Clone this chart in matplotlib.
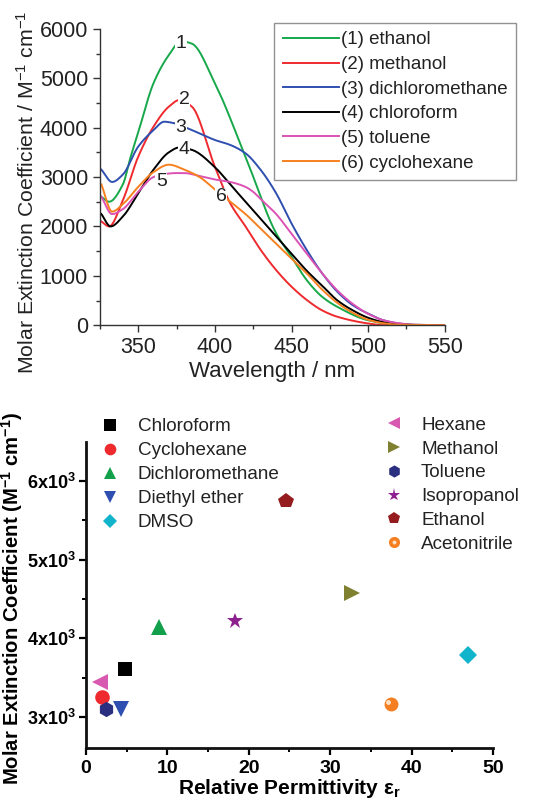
import numpy as np
import matplotlib
matplotlib.use("Agg")
import matplotlib.pyplot as plt
from matplotlib.lines import Line2D
from matplotlib.legend_handler import HandlerTuple
from matplotlib.ticker import MultipleLocator, FixedLocator, FixedFormatter

plt.rcParams['font.family'] = ['Liberation Sans', 'DejaVu Sans']
plt.rcParams['mathtext.fontset'] = 'custom'
plt.rcParams['mathtext.rm'] = 'Liberation Sans'
plt.rcParams['mathtext.bf'] = 'Liberation Sans:bold'
plt.rcParams['mathtext.default'] = 'regular'

# ---------------- Top panel data (spectra) ----------------
wl_ethanol = [326, 331, 340, 345, 350, 360, 370, 378, 385, 400, 420, 440, 450, 460, 470, 480, 500, 520, 550]
ab_ethanol = [2600, 2500, 2850, 3400, 3900, 4900, 5470, 5750, 5700, 4900, 3410, 1860, 1385, 910, 575, 370, 100, 5, 0]

wl_methanol = [326, 331, 340, 350, 360, 370, 377, 385, 400, 410, 420, 430, 440, 450, 460, 470, 480, 500, 510, 550]
ab_methanol = [2100, 2000, 2530, 3410, 4020, 4425, 4560, 4425, 3210, 2470, 2000, 1520, 1115, 780, 510, 300, 170, 35, 0, 0]

wl_dcm = [326, 333, 340, 350, 360, 367, 372, 385, 400, 410, 420, 430, 440, 450, 460, 470, 480, 490, 500, 510, 520, 530, 550]
ab_dcm = [3150, 2900, 3050, 3615, 3950, 4120, 4100, 3950, 3750, 3650, 3480, 3140, 2670, 2060, 1520, 1050, 675, 405, 235, 100, 35, 5, 0]

wl_chcl3 = [326, 332, 340, 350, 360, 370, 377, 385, 400, 410, 420, 430, 440, 450, 460, 470, 480, 490, 500, 510, 520, 550]
ab_chcl3 = [2250, 2000, 2200, 2670, 3150, 3500, 3600, 3550, 3200, 2850, 2500, 2150, 1800, 1450, 1100, 800, 500, 300, 150, 60, 15, 0]

wl_toluene = [326, 333, 340, 350, 360, 367, 375, 380, 390, 400, 410, 420, 425, 430, 440, 450, 460, 470, 480, 490, 500, 510, 520, 530, 550]
ab_toluene = [2600, 2250, 2350, 2700, 3000, 3060, 3080, 3080, 3020, 2950, 2900, 2800, 2700, 2550, 2250, 1850, 1450, 1050, 700, 430, 230, 100, 40, 10, 0]

wl_chex = [326, 333, 340, 350, 360, 370, 380, 390, 400, 410, 420, 430, 440, 450, 460, 470, 480, 490, 500, 510, 520, 550]
ab_chex = [2850, 2300, 2450, 2800, 3100, 3250, 3150, 3000, 2750, 2500, 2250, 1950, 1650, 1350, 1050, 720, 450, 250, 110, 40, 10, 0]

spec_labels = ["(1) ethanol", "(2) methanol", "(3) dichloromethane",
               "(4) chloroform", "(5) toluene", "(6) cyclohexane"]
spec_colors = ["#17a84a", "#ee2a2e", "#2f4fb0", "#000000", "#dc52b4", "#f7801f"]
num_labels = ["1", "2", "3", "4", "5", "6"]
num_pos_x = [378, 380, 378, 380, 365, 404]
num_pos_y = [5700, 4560, 4000, 3550, 2900, 2600]

# ---------------- Bottom panel data (scatter) ----------------
solvents = ["Chloroform", "Cyclohexane", "Dichloromethane", "Diethyl ether", "DMSO",
            "Hexane", "Methanol", "Toluene", "Isopropanol", "Ethanol", "Acetonitrile"]
permittivity = [4.8, 2.0, 9.0, 4.3, 47.0, 1.7, 32.7, 2.4, 18.3, 24.6, 37.5]
extinction = [3605, 3250, 4140, 3105, 3790, 3440, 4575, 3100, 4225, 5750, 3160]
sc_colors = ["#000000", "#ee2a2e", "#12a04a", "#2f4fb0", "#12b4cc",
             "#d85ab0", "#7f8030", "#2a2f80", "#8e1f8e", "#941b1e", "#f57f20"]
sc_markers = ["s", "o", "^", "v", "D", "<", ">", "h", "*", "p", "o"]
sc_sizes = [10, 10.5, 11, 11, 9.5, 11, 11, 11, 12, 11.5, 10]


def pchip(x, y, xs):
    x = np.asarray(x, float)
    y = np.asarray(y, float)
    h = np.diff(x)
    d = np.diff(y) / h
    m = np.zeros_like(y)
    for i in range(1, len(x) - 1):
        if d[i - 1] * d[i] > 0:
            w1 = 2 * h[i] + h[i - 1]
            w2 = h[i] + 2 * h[i - 1]
            m[i] = (w1 + w2) / (w1 / d[i - 1] + w2 / d[i])
    m[0] = d[0]
    m[-1] = d[-1]
    idx = np.clip(np.searchsorted(x, xs) - 1, 0, len(x) - 2)
    t = (xs - x[idx]) / h[idx]
    h00 = 2 * t**3 - 3 * t**2 + 1
    h10 = t**3 - 2 * t**2 + t
    h01 = -2 * t**3 + 3 * t**2
    h11 = t**3 - t**2
    return h00 * y[idx] + h10 * h[idx] * m[idx] + h01 * y[idx + 1] + h11 * h[idx] * m[idx + 1]


fig = plt.figure(figsize=(5.34, 8.01), dpi=100)

# ================= Top panel =================
ax1 = fig.add_axes([0.187, 0.594, 0.646, 0.370])
series = [(wl_ethanol, ab_ethanol), (wl_methanol, ab_methanol), (wl_dcm, ab_dcm),
          (wl_chcl3, ab_chcl3), (wl_toluene, ab_toluene), (wl_chex, ab_chex)]
for (x, y), c, lab in zip(series, spec_colors, spec_labels):
    xs = np.linspace(x[0], x[-1], 600)
    ys = pchip(x, y, xs)
    ax1.plot(xs, ys, color=c, lw=1.4, label=lab)

for t, xx, yy in zip(num_labels, num_pos_x, num_pos_y):
    ax1.text(xx, yy, t, fontsize=14, ha="center", va="center", color="#222222",
             bbox=dict(facecolor="white", edgecolor="none", pad=0.6))

ax1.set_xlim(325, 550)
ax1.set_ylim(0, 6000)
ax1.xaxis.set_major_locator(FixedLocator([350, 400, 450, 500, 550]))
ax1.xaxis.set_minor_locator(MultipleLocator(25))
ax1.yaxis.set_major_locator(MultipleLocator(1000))
ax1.yaxis.set_minor_locator(MultipleLocator(500))
for s in ["top", "right"]:
    ax1.spines[s].set_visible(False)
for s in ["left", "bottom"]:
    ax1.spines[s].set_color("#333333")
    ax1.spines[s].set_linewidth(1.0)
ax1.tick_params(which="major", direction="out", length=5, width=1, labelsize=15.5, colors="#333333",
                labelcolor="#222222")
ax1.tick_params(which="minor", direction="out", length=3, width=1, colors="#333333")
ax1.set_xlabel("Wavelength / nm", fontsize=16, color="#222222", labelpad=2)
ax1.set_ylabel(r"Molar Extinction Coefficient / M$^{-1}$ cm$^{-1}$", fontsize=15.3,
               color="#222222")
ax1.yaxis.set_label_coords(-0.18, 0.447)
leg1 = ax1.legend(loc="upper left", bbox_to_anchor=(0.505, 1.02), frameon=True, fancybox=False,
                  fontsize=13.5, handlelength=3.0, handletextpad=0.1, borderpad=0.45,
                  labelspacing=0.4, borderaxespad=0)
leg1.get_frame().set_edgecolor("#777777")
leg1.get_frame().set_linewidth(1.0)
for t in leg1.get_texts():
    t.set_color("#222222")

# ================= Bottom panel =================
ax2 = fig.add_axes([0.161, 0.0658, 0.762, 0.3828])
handles = []
for x, y, c, m, ms, lab in zip(permittivity, extinction, sc_colors, sc_markers, sc_sizes, solvents):
    ax2.plot([x], [y], linestyle="none", marker=m, color=c, markersize=ms,
             markeredgewidth=0, zorder=3)
    h = Line2D([], [], linestyle="none", marker=m, color=c, markersize=ms * 0.8,
               markeredgewidth=0)
    if lab == "Acetonitrile":
        ax2.plot([x - 0.35], [y + 25], linestyle="none", marker="o", color="#fde2c8",
                 markersize=3.5, markeredgewidth=0, zorder=4)
        hl = Line2D([], [], linestyle="none", marker="o", color="#fde2c8",
                    markersize=2.8, markeredgewidth=0)
        h = (h, hl)
    handles.append(h)

ax2.set_xlim(0, 50)
ax2.set_ylim(2600, 6500)
ax2.xaxis.set_major_locator(MultipleLocator(10))
ax2.xaxis.set_minor_locator(MultipleLocator(5))
ax2.yaxis.set_major_locator(FixedLocator([3000, 4000, 5000, 6000]))
ax2.yaxis.set_major_formatter(FixedFormatter([r"3x10$^3$", r"4x10$^3$", r"5x10$^3$", r"6x10$^3$"]))
ax2.yaxis.set_minor_locator(FixedLocator([3500, 4500, 5500]))
for s in ["top", "right"]:
    ax2.spines[s].set_visible(False)
for s in ["left", "bottom"]:
    ax2.spines[s].set_linewidth(2.0)
    ax2.spines[s].set_color("#111111")
ax2.tick_params(axis="x", which="major", direction="out", length=5, width=1.6, labelsize=14)
ax2.tick_params(axis="y", which="major", direction="out", length=5, width=1.6, labelsize=13, pad=2.5)
ax2.tick_params(which="minor", direction="out", length=3, width=1.4)
for lbl in ax2.get_xticklabels() + ax2.get_yticklabels():
    lbl.set_fontweight("bold")
ax2.set_xlabel(r"Relative Permittivity $\varepsilon_r$", fontsize=15, fontweight="bold", labelpad=0)
ax2.set_ylabel(r"Molar Extinction Coefficient (M$^{-1}$ cm$^{-1}$)", fontsize=14.6,
               fontweight="bold")
ax2.yaxis.set_label_coords(-0.15, 0.49)

hmap = {tuple: HandlerTuple(ndivide=1)}
legA = fig.legend(handles[:5], solvents[:5], loc="upper left",
                  bbox_to_anchor=(0.185, 0.478), frameon=False, fontsize=13.6,
                  handlelength=1.2, handletextpad=0.85, labelspacing=0.36, borderpad=0,
                  borderaxespad=0, handler_map=hmap)
legB = fig.legend(handles[5:], solvents[5:], loc="upper left",
                  bbox_to_anchor=(0.716, 0.48), frameon=False, fontsize=13.6,
                  handlelength=1.2, handletextpad=0.85, labelspacing=0.35, borderpad=0,
                  borderaxespad=0, handler_map=hmap)
for t in legA.get_texts() + legB.get_texts():
    t.set_color("#222222")

fig.savefig("out.png", dpi=100)
